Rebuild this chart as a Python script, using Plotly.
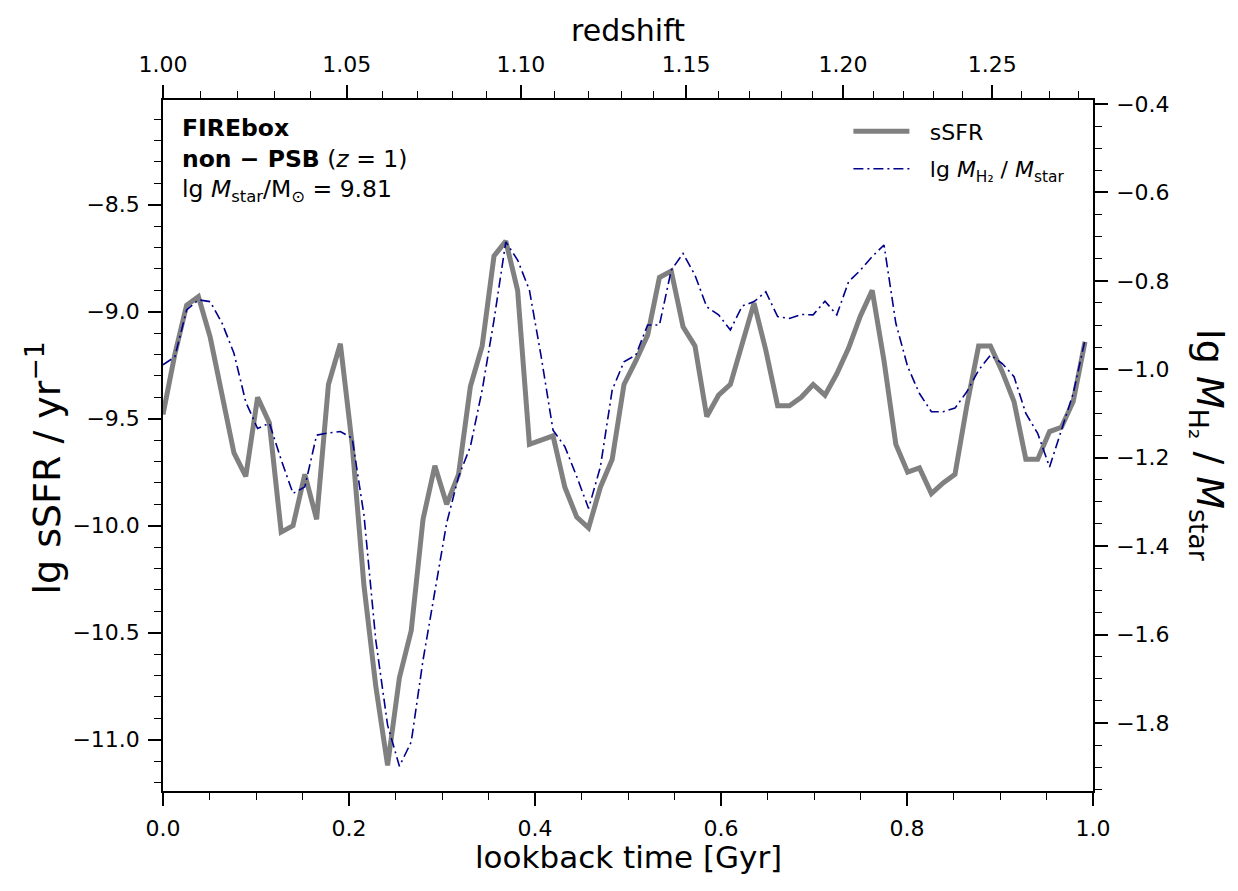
import numpy as np
import plotly.graph_objects as go

# ---------------- data ----------------
lookback_gyr = [
    0.0000, 0.0127, 0.0254, 0.0381, 0.0508, 0.0636, 0.0763, 0.0890, 0.1017, 0.1144,
    0.1271, 0.1398, 0.1525, 0.1652, 0.1779, 0.1907, 0.2034, 0.2161, 0.2288, 0.2415,
    0.2542, 0.2669, 0.2796, 0.2923, 0.3050, 0.3178, 0.3305, 0.3432, 0.3559, 0.3686,
    0.3813, 0.3940, 0.4067, 0.4194, 0.4321, 0.4449, 0.4576, 0.4703, 0.4830, 0.4957,
    0.5084, 0.5211, 0.5338, 0.5465, 0.5592, 0.5720, 0.5847, 0.5974, 0.6101, 0.6228,
    0.6355, 0.6482, 0.6609, 0.6736, 0.6863, 0.6991, 0.7118, 0.7245, 0.7372, 0.7499,
    0.7626, 0.7753, 0.7880, 0.8007, 0.8134, 0.8262, 0.8389, 0.8516, 0.8643, 0.8770,
    0.8897, 0.9024, 0.9151, 0.9278, 0.9405, 0.9533, 0.9660, 0.9787, 0.9914,
]

lg_ssfr = [
    -9.48, -9.20, -8.97, -8.93, -9.12, -9.40, -9.66, -9.77, -9.40, -9.52,
    -10.03, -10.00, -9.76, -9.97, -9.34, -9.15, -9.62, -10.28, -10.75, -11.12,
    -10.71, -10.49, -9.97, -9.72, -9.90, -9.76, -9.35, -9.16, -8.74, -8.67,
    -8.90, -9.62, -9.60, -9.58, -9.82, -9.96, -10.01, -9.82, -9.69, -9.34,
    -9.23, -9.11, -8.84, -8.81, -9.07, -9.16, -9.49, -9.39, -9.34, -9.15,
    -8.96, -9.18, -9.44, -9.44, -9.40, -9.34, -9.39, -9.29, -9.17, -9.02,
    -8.90, -9.23, -9.62, -9.75, -9.73, -9.85, -9.80, -9.76, -9.44, -9.16,
    -9.16, -9.28, -9.42, -9.69, -9.69, -9.56, -9.54, -9.42, -9.14,
]

lg_mh2_mstar = [
    -0.990, -0.972, -0.866, -0.843, -0.847, -0.896, -0.964, -1.074, -1.134, -1.122,
    -1.205, -1.281, -1.266, -1.149, -1.144, -1.141, -1.156, -1.330, -1.613, -1.805,
    -1.898, -1.843, -1.658, -1.500, -1.348, -1.243, -1.175, -1.047, -0.889, -0.712,
    -0.753, -0.821, -0.972, -1.138, -1.175, -1.243, -1.315, -1.221, -1.047, -0.983,
    -0.968, -0.900, -0.900, -0.776, -0.738, -0.787, -0.859, -0.877, -0.911, -0.857,
    -0.847, -0.825, -0.881, -0.885, -0.876, -0.877, -0.846, -0.877, -0.802, -0.776,
    -0.745, -0.719, -0.896, -0.994, -1.055, -1.096, -1.096, -1.088, -1.051, -1.002,
    -0.968, -0.987, -1.017, -1.100, -1.145, -1.221, -1.138, -1.055, -0.934,
]

# tick labels
bottom_tick_vals = [0.0, 0.2, 0.4, 0.6, 0.8, 1.0]
bottom_tick_text = ["0.0", "0.2", "0.4", "0.6", "0.8", "1.0"]
bottom_minor_vals = [0.05, 0.10, 0.15, 0.25, 0.30, 0.35, 0.45, 0.50, 0.55,
                     0.65, 0.70, 0.75, 0.85, 0.90, 0.95]

left_tick_vals = [-11.0, -10.5, -10.0, -9.5, -9.0, -8.5]
left_tick_text = ["\u221211.0", "\u221210.5", "\u221210.0", "\u22129.5", "\u22129.0", "\u22128.5"]
left_minor_vals = [-11.2, -11.1, -10.9, -10.8, -10.7, -10.6, -10.4, -10.3, -10.2, -10.1,
                   -9.9, -9.8, -9.7, -9.6, -9.4, -9.3, -9.2, -9.1, -8.9, -8.8, -8.7,
                   -8.6, -8.4, -8.3, -8.2, -8.1]

right_tick_vals = [-1.8, -1.6, -1.4, -1.2, -1.0, -0.8, -0.6, -0.4]
right_tick_text = ["\u22121.8", "\u22121.6", "\u22121.4", "\u22121.2", "\u22121.0",
                   "\u22120.8", "\u22120.6", "\u22120.4"]
right_minor_vals = [-1.95, -1.90, -1.85, -1.75, -1.70, -1.65, -1.55, -1.50, -1.45,
                    -1.35, -1.30, -1.25, -1.15, -1.10, -1.05, -0.95, -0.90, -0.85,
                    -0.75, -0.70, -0.65, -0.55, -0.50, -0.45]

redshift_major = [1.00, 1.05, 1.10, 1.15, 1.20, 1.25]
redshift_major_text = ["1.00", "1.05", "1.10", "1.15", "1.20", "1.25"]
redshift_minor = [1.01, 1.02, 1.03, 1.04, 1.06, 1.07, 1.08, 1.09, 1.11, 1.12, 1.13,
                  1.14, 1.16, 1.17, 1.18, 1.19, 1.21, 1.22, 1.23, 1.24, 1.26, 1.27,
                  1.28, 1.29]

# ---------------- redshift -> lookback time since z=1 (flat LCDM) ----------------
H0 = 67.74
OM = 0.3089


def lookback_since_z1(z):
    zz = np.linspace(1.0, z, 4001)
    t_hubble = 977.79 / H0
    integrand = t_hubble / ((1.0 + zz) * np.sqrt(OM * (1.0 + zz) ** 3 + 1.0 - OM))
    return float(np.trapezoid(integrand, zz))


top_major_pos = [lookback_since_z1(z) for z in redshift_major]
top_minor_pos = [lookback_since_z1(z) for z in redshift_minor]
top_minor_pos = [t for t in top_minor_pos if t <= 1.0]

# ---------------- figure ----------------
FONT = "DejaVu Sans, Verdana, sans-serif"
TICK_FONT = dict(family=FONT, size=22, color="black")

fig = go.Figure()

fig.add_trace(go.Scatter(
    x=lookback_gyr, y=lg_ssfr, mode="lines", name="\u2002\u2009sSFR",
    legendgroup="a",
    line=dict(color="#808080", width=5), xaxis="x", yaxis="y",
    hoverinfo="skip",
))
fig.add_trace(go.Scatter(
    x=lookback_gyr, y=lg_mh2_mstar, mode="lines",
    name="\u2002\u2009lg <i>M</i><sub>H\u2082</sub> / <i>M</i><sub>star</sub>",
    legendgroup="b",
    line=dict(color="#00008B", width=1.6, dash="10px,4px,2px,4px"),
    xaxis="x2", yaxis="y2", hoverinfo="skip",
))

axis_common = dict(
    showline=True, linecolor="black", linewidth=1.6, showgrid=False, zeroline=False,
    ticks="outside", ticklen=13, tickwidth=1.5, tickcolor="black", tickfont=TICK_FONT,
)
minor_common = dict(ticks="outside", ticklen=7, tickwidth=1.3, tickcolor="black")

fig.update_layout(
    width=1238, height=891,
    margin=dict(l=163, r=145, t=100, b=100),
    paper_bgcolor="white", plot_bgcolor="white",
    font=dict(family=FONT, color="black"),
    showlegend=True,
    xaxis=dict(
        range=[0, 1.0], tickmode="array", tickvals=bottom_tick_vals,
        ticktext=bottom_tick_text,
        minor=dict(tickmode="array", tickvals=bottom_minor_vals, **minor_common),
        ticklabelstandoff=4,
        **axis_common,
    ),
    xaxis2=dict(
        range=[0, 1.0], overlaying="x", side="top", tickmode="array",
        tickvals=top_major_pos, ticktext=redshift_major_text,
        minor=dict(tickmode="array", tickvals=top_minor_pos, **minor_common),
        ticklabelstandoff=4,
        **axis_common,
    ),
    yaxis=dict(
        range=[-11.2397, -8.0107], tickmode="array", tickvals=left_tick_vals,
        ticktext=left_tick_text,
        minor=dict(tickmode="array", tickvals=left_minor_vals, **minor_common),
        ticklabelstandoff=4,
        **axis_common,
    ),
    yaxis2=dict(
        range=[-1.954, -0.391], overlaying="y", side="right", anchor="x",
        tickmode="array", tickvals=right_tick_vals, ticktext=right_tick_text,
        minor=dict(tickmode="array", tickvals=right_minor_vals, **minor_common),
        ticklabelstandoff=4,
        **axis_common,
    ),
    legend=dict(
        x=0.737, y=0.985, xanchor="left", yanchor="top",
        bgcolor="rgba(0,0,0,0)", borderwidth=0,
        font=dict(family=FONT, size=22, color="black"),
        itemwidth=56, tracegroupgap=6,
    ),
    annotations=[
        dict(
            x=0.018, y=0.982, xref="paper", yref="paper", xanchor="left", yanchor="top",
            align="left", showarrow=False,
            text=("<b>FIREbox</b><br><b>non \u2212 PSB</b> (<i>z</i> = 1)<br>"
                  "lg <i>M</i><sub>star</sub>/M<sub>\u2299</sub> = 9.81"),
            font=dict(family=FONT, size=23.5, color="black"),
        ),
        dict(
            x=0.5, y=-0.096, xref="paper", yref="paper", xanchor="center", yanchor="middle",
            showarrow=False, text="lookback time [Gyr]",
            font=dict(family=FONT, size=31, color="black"),
        ),
        dict(
            x=0.5, y=1.101, xref="paper", yref="paper", xanchor="center", yanchor="middle",
            showarrow=False, text="redshift",
            font=dict(family=FONT, size=30, color="black"),
        ),
        dict(
            x=-0.128, y=0.468, xref="paper", yref="paper", xanchor="center", yanchor="middle",
            showarrow=False, textangle=-90,
            text="lg sSFR / yr<sup>\u22121</sup>",
            font=dict(family=FONT, size=38, color="black"),
        ),
        dict(
            x=1.123, y=0.5, xref="paper", yref="paper", xanchor="center", yanchor="middle",
            showarrow=False, textangle=90,
            text="lg <i>M</i><sub>H\u2082</sub> / <i>M</i><sub>star</sub>",
            font=dict(family=FONT, size=38, color="black"),
        ),
    ],
)

fig.write_html("out.html", config={"displayModeBar": False})
